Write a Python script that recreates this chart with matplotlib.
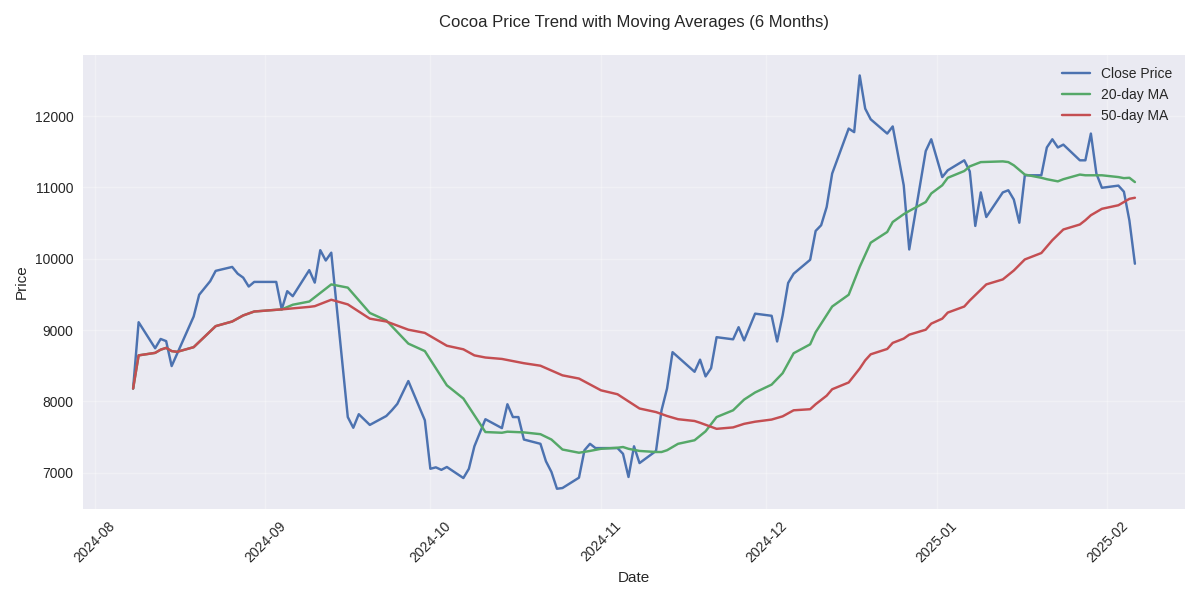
import pandas as pd
import matplotlib
matplotlib.use('Agg')
import matplotlib.pyplot as plt

# Close prices (trading days)
close_dates = [
    '2024-08-08', '2024-08-09', '2024-08-12', '2024-08-13', '2024-08-14', '2024-08-15',
    '2024-08-19', '2024-08-20', '2024-08-22', '2024-08-23', '2024-08-26', '2024-08-27',
    '2024-08-28', '2024-08-29', '2024-08-30', '2024-09-03', '2024-09-04', '2024-09-05',
    '2024-09-06', '2024-09-09', '2024-09-10', '2024-09-11', '2024-09-12', '2024-09-13',
    '2024-09-16', '2024-09-17', '2024-09-18', '2024-09-20', '2024-09-23', '2024-09-24',
    '2024-09-25', '2024-09-27', '2024-09-30', '2024-10-01', '2024-10-02', '2024-10-03',
    '2024-10-04', '2024-10-07', '2024-10-08', '2024-10-09', '2024-10-11', '2024-10-14',
    '2024-10-15', '2024-10-16', '2024-10-17', '2024-10-18', '2024-10-21', '2024-10-22',
    '2024-10-23', '2024-10-24', '2024-10-25', '2024-10-28', '2024-10-29', '2024-10-30',
    '2024-10-31', '2024-11-04', '2024-11-05', '2024-11-06', '2024-11-07', '2024-11-08',
    '2024-11-11', '2024-11-12', '2024-11-13', '2024-11-14', '2024-11-18', '2024-11-19',
    '2024-11-20', '2024-11-21', '2024-11-22', '2024-11-25', '2024-11-26', '2024-11-27',
    '2024-11-29', '2024-12-02', '2024-12-03', '2024-12-04', '2024-12-05', '2024-12-06',
    '2024-12-09', '2024-12-10', '2024-12-11', '2024-12-12', '2024-12-13', '2024-12-16',
    '2024-12-17', '2024-12-18', '2024-12-19', '2024-12-20', '2024-12-23', '2024-12-24',
    '2024-12-26', '2024-12-27', '2024-12-30', '2024-12-31', '2025-01-02', '2025-01-03',
    '2025-01-06', '2025-01-07', '2025-01-08', '2025-01-09', '2025-01-10', '2025-01-13',
    '2025-01-14', '2025-01-15', '2025-01-16', '2025-01-17', '2025-01-20', '2025-01-21',
    '2025-01-22', '2025-01-23', '2025-01-24', '2025-01-27', '2025-01-28', '2025-01-29',
    '2025-01-30', '2025-01-31', '2025-02-03', '2025-02-04', '2025-02-05', '2025-02-06',
]
close = [
    8180, 9110, 8745, 8875, 8845, 8495,
    9190, 9495, 9685, 9830, 9885, 9790,
    9735, 9610, 9675, 9675, 9290, 9545,
    9475, 9840, 9665, 10120, 9975, 10085,
    7780, 7630, 7820, 7670, 7795, 7875,
    7965, 8285, 7735, 7055, 7075, 7040,
    7080, 6925, 7055, 7370, 7750, 7625,
    7960, 7780, 7780, 7465, 7405, 7160,
    7010, 6775, 6785, 6930, 7315, 7405,
    7345, 7345, 7265, 6940, 7370, 7135,
    7305, 7875, 8180, 8690, 8415, 8585,
    8350, 8465, 8900, 8870, 9040, 8855,
    9230, 9200, 8840, 9205, 9660, 9790,
    9985, 10390, 10470, 10725, 11195, 11825,
    11775, 12570, 12105, 11955, 11755, 11855,
    11030, 10130, 11510, 11675, 11145, 11240,
    11380, 11225, 10460, 10930, 10585, 10930,
    10960, 10830, 10505, 11170, 11170, 11560,
    11675, 11560, 11600, 11380, 11380, 11755,
    11195, 10995, 11025, 10940, 10535, 9930,
]

# 20-day moving average (before 2024-09-04 it lies under the 50-day line)
ma20_dates = [
    '2024-08-08', '2024-08-09', '2024-08-12', '2024-08-13', '2024-08-14', '2024-08-15',
    '2024-08-16', '2024-08-19', '2024-08-23', '2024-08-26', '2024-08-28', '2024-08-30',
    '2024-09-04', '2024-09-06', '2024-09-09', '2024-09-13', '2024-09-16', '2024-09-20',
    '2024-09-23', '2024-09-27', '2024-09-30', '2024-10-04', '2024-10-07', '2024-10-09',
    '2024-10-11', '2024-10-14', '2024-10-15', '2024-10-18', '2024-10-21', '2024-10-23',
    '2024-10-25', '2024-10-28', '2024-10-30', '2024-11-01', '2024-11-04', '2024-11-05',
    '2024-11-06', '2024-11-08', '2024-11-11', '2024-11-12', '2024-11-13', '2024-11-15',
    '2024-11-18', '2024-11-20', '2024-11-22', '2024-11-25', '2024-11-27', '2024-11-29',
    '2024-12-02', '2024-12-04', '2024-12-06', '2024-12-09', '2024-12-10', '2024-12-13',
    '2024-12-16', '2024-12-18', '2024-12-20', '2024-12-23', '2024-12-24', '2024-12-26',
    '2024-12-27', '2024-12-30', '2024-12-31', '2025-01-02', '2025-01-03', '2025-01-06',
    '2025-01-07', '2025-01-09', '2025-01-13', '2025-01-14', '2025-01-15', '2025-01-17',
    '2025-01-20', '2025-01-21', '2025-01-23', '2025-01-24', '2025-01-27', '2025-01-28',
    '2025-01-30', '2025-01-31', '2025-02-03', '2025-02-04', '2025-02-05', '2025-02-06',
]
ma20 = [
    8180, 8645, 8680, 8725, 8750, 8705,
    8695, 8760, 9055, 9120, 9205, 9260,
    9290, 9355, 9400, 9640, 9595, 9240,
    9135, 8810, 8705, 8225, 8040, 7805,
    7570, 7560, 7575, 7565, 7540, 7465,
    7325, 7280, 7305, 7335, 7350, 7360,
    7335, 7305, 7290, 7290, 7315, 7405,
    7455, 7580, 7780, 7875, 8025, 8125,
    8235, 8395, 8675, 8800, 8970, 9330,
    9495, 9885, 10225, 10375, 10515, 10625,
    10670, 10795, 10915, 11030, 11135, 11230,
    11295, 11355, 11365, 11355, 11310, 11180,
    11135, 11115, 11085, 11115, 11180, 11170,
    11170, 11170, 11145, 11130, 11135, 11075,
]

# 50-day moving average
ma50_dates = [
    '2024-08-08', '2024-08-09', '2024-08-12', '2024-08-13', '2024-08-14', '2024-08-15',
    '2024-08-16', '2024-08-19', '2024-08-23', '2024-08-26', '2024-08-28', '2024-08-30',
    '2024-09-04', '2024-09-09', '2024-09-10', '2024-09-13', '2024-09-16', '2024-09-20',
    '2024-09-23', '2024-09-27', '2024-09-30', '2024-10-04', '2024-10-07', '2024-10-09',
    '2024-10-11', '2024-10-14', '2024-10-18', '2024-10-21', '2024-10-25', '2024-10-28',
    '2024-11-01', '2024-11-04', '2024-11-08', '2024-11-11', '2024-11-13', '2024-11-15',
    '2024-11-18', '2024-11-19', '2024-11-22', '2024-11-25', '2024-11-27', '2024-11-29',
    '2024-12-02', '2024-12-04', '2024-12-06', '2024-12-09', '2024-12-10', '2024-12-12',
    '2024-12-13', '2024-12-16', '2024-12-18', '2024-12-19', '2024-12-20', '2024-12-23',
    '2024-12-24', '2024-12-26', '2024-12-27', '2024-12-30', '2024-12-31', '2025-01-02',
    '2025-01-03', '2025-01-06', '2025-01-07', '2025-01-08', '2025-01-10', '2025-01-13',
    '2025-01-15', '2025-01-17', '2025-01-20', '2025-01-22', '2025-01-24', '2025-01-27',
    '2025-01-28', '2025-01-29', '2025-01-31', '2025-02-03', '2025-02-04', '2025-02-05',
    '2025-02-06',
]
ma50 = [
    8180, 8645, 8680, 8725, 8750, 8705,
    8695, 8760, 9055, 9120, 9205, 9260,
    9290, 9325, 9335, 9425, 9360, 9160,
    9120, 9005, 8960, 8780, 8730, 8645,
    8615, 8595, 8535, 8500, 8365, 8320,
    8155, 8100, 7900, 7850, 7795, 7750,
    7725, 7700, 7615, 7635, 7685, 7715,
    7745, 7790, 7875, 7890, 7960, 8080,
    8170, 8265, 8460, 8575, 8660, 8735,
    8820, 8880, 8935, 9005, 9090, 9160,
    9245, 9330, 9415, 9490, 9640, 9710,
    9835, 9990, 10080, 10260, 10410, 10480,
    10540, 10610, 10700, 10750, 10795, 10840,
    10855,
]

plt.style.use('seaborn-v0_8')
plt.rcParams['font.family'] = ['Liberation Sans', 'DejaVu Sans']

fig, ax = plt.subplots(figsize=(12, 6), dpi=100)
ax.plot(pd.to_datetime(close_dates), close, label='Close Price', color='#4C72B0')
ax.plot(pd.to_datetime(ma20_dates), ma20, label='20-day MA', color='#55A868')
ax.plot(pd.to_datetime(ma50_dates), ma50, label='50-day MA', color='#C44E52')

ax.set_title('Cocoa Price Trend with Moving Averages (6 Months)', fontsize=12, pad=20)
ax.set_xlabel('Date')
ax.set_ylabel('Price')
ax.legend(loc='upper right')
ax.grid(True, alpha=0.3)
plt.xticks(rotation=45)

plt.tight_layout()
plt.savefig('out.png', dpi=100)
